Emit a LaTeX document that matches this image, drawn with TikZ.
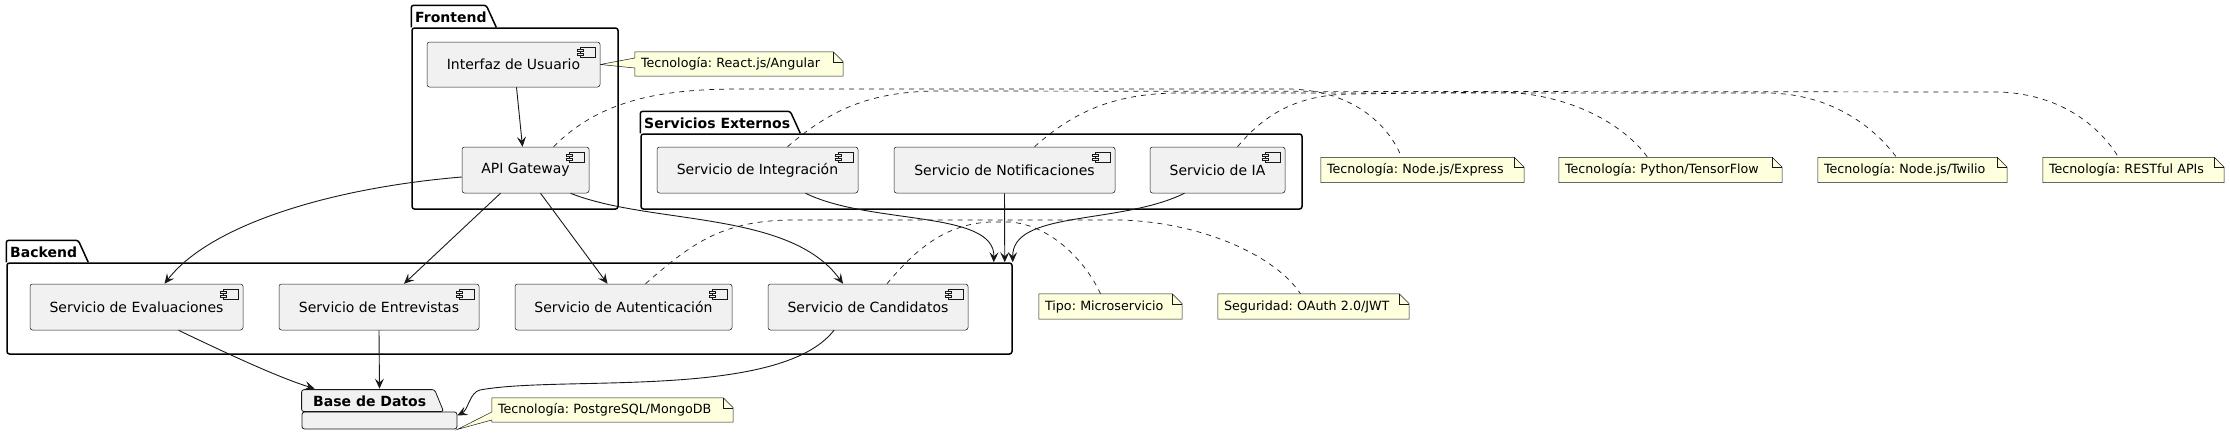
\documentclass[tikz,border=0pt]{standalone}
\usepackage{fontspec}
\setmainfont{DejaVu Sans}
\usetikzlibrary{arrows.meta,calc,backgrounds}
\definecolor{boxfill}{HTML}{F1F1F1}
\definecolor{umlline}{HTML}{181818}
\definecolor{notefill}{HTML}{FEFFDD}

\tikzset{
  comp/.style={draw=umlline, fill=boxfill, rounded corners=2.5pt, line width=0.5pt,
    minimum height=46pt, inner sep=0pt, font=\fontsize{14}{16}\selectfont},
  note/.style={minimum height=25pt, inner xsep=6pt, inner ysep=0pt, align=left,
    font=\fontsize{12.7}{14}\selectfont\frenchspacing},
  notebox/.style={draw=umlline, fill=notefill, line width=0.5pt},
  pkgframe/.style={draw=black, line width=1.5pt, rounded corners=2.5pt, inner sep=0pt},
  pkgline/.style={draw=black, line width=1.5pt, rounded corners=2.5pt},
  pkgtitle/.style={anchor=west, inner sep=0pt, font=\bfseries\fontsize{14}{16}\selectfont},
  dep/.style={draw=umlline, line width=0.9pt, -{Stealth[length=10pt,width=9pt,inset=4pt]}},
  noteline/.style={draw=umlline, line width=0.7pt, dash pattern=on 5pt off 5pt},
}

\begin{document}
\begin{tikzpicture}[x=1pt, y=-1pt]
    \useasboundingbox (0,0) rectangle (2230,437);

    % Packages
    \node[pkgframe, minimum width=206pt, minimum height=181pt] (front) at (515,118.5) {};
    \draw[pkgline] (front.north west) -- ++(0,-22) -- ++(75,0) -- ++(10,22);
    \node[pkgtitle] (frontname) at (415,17) {Frontend};

    \node[pkgframe, minimum width=661pt, minimum height=75pt] (ext) at (971.5,171.5) {};
    \draw[pkgline] (ext.north west) -- ++(0,-22) -- ++(150,0) -- ++(10,22);
    \node[pkgtitle] (extname) at (644,123) {Servicios Externos};

    \node[pkgframe, minimum width=1005pt, minimum height=91pt] (backend) at (509.5,308.5) {};
    \draw[pkgline] (backend.north west) -- ++(0,-22) -- ++(72,0) -- ++(10,22);
    \node[pkgtitle] (backendname) at (10,252) {Backend};

    \node[draw=umlline, fill=boxfill, line width=0.8pt, rounded corners=2.5pt, inner sep=0pt,
          minimum width=155pt, minimum height=17pt] (bd) at (379.5,420.5) {};
    \filldraw[draw=umlline, fill=boxfill, line width=0.8pt, rounded corners=2.5pt]
        (bd.north west) -- ++(0,-22) -- ++(133,0) -- ++(9,22) -- cycle;
    \node[pkgtitle] (bdname) at (313,401) {Base de Datos};

    % Components
    \node[comp, minimum width=173pt, minimum height=45pt] (ui) at (513.5,64.5) {Interfaz de Usuario};
    \node[comp, minimum width=127pt] (api) at (525.5,170) {API Gateway};
    \node[comp, minimum width=201pt] (integ) at (757.5,170) {Servicio de Integración};
    \node[comp, minimum width=221pt] (notif) at (1004.5,170) {Servicio de Notificaciones};
    \node[comp, minimum width=135pt] (ia) at (1217.5,170) {Servicio de IA};
    \node[comp, minimum width=213pt] (eval) at (136.5,307) {Servicio de Evaluaciones};
    \node[comp, minimum width=200pt] (entre) at (379,307) {Servicio de Entrevistas};
    \node[comp, minimum width=217pt] (auth) at (623.5,307) {Servicio de Autenticación};
    \node[comp, minimum width=200pt] (cand) at (868,307) {Servicio de Candidatos};

    \foreach \c in {ui,api,integ,notif,ia,eval,entre,auth,cand} {
        \draw[umlline, line width=0.5pt, fill=boxfill] ($(\c.north east)+(-20,5)$) rectangle ($(\c.north east)+(-5,15)$);
        \draw[umlline, line width=0.5pt, fill=boxfill] ($(\c.north east)+(-23,7)$) rectangle ($(\c.north east)+(-17,9)$);
        \draw[umlline, line width=0.5pt, fill=boxfill] ($(\c.north east)+(-23,11)$) rectangle ($(\c.north east)+(-17,13)$);
    }

    % Notes
    \node[note, text width=196pt, minimum height=24pt] (nReact) at (739,64) {Tecnología: React.js/Angular};
    \node[note, text width=191pt] (nExpress) at (1422.5,170) {Tecnología: Node.js/Express};
    \node[note, text width=211pt] (nTensor) at (1670.5,170) {Tecnología: Python/TensorFlow};
    \node[note, text width=177pt] (nTwilio) at (1912.5,170) {Tecnología: Node.js/Twilio};
    \node[note, text width=169pt] (nRest) at (2133.5,170) {Tecnología: RESTful APIs};
    \node[note, text width=131pt] (nTipo) at (1110.5,306.5) {Tipo: Microservicio};
    \node[note, text width=179pt] (nSeg) at (1313.5,306.5) {Seguridad: OAuth 2.0/JWT};
    \node[note, text width=229pt, minimum height=24pt] (nPg) at (612.5,410) {Tecnología: PostgreSQL/MongoDB};

    \begin{scope}[on background layer]
        \foreach \nn in {nExpress,nTensor,nTwilio,nRest,nTipo,nSeg} {
            \draw[notebox] (\nn.north west) -- ($(\nn.north east)+(-10,0)$) -- ($(\nn.north east)+(0,10)$)
                -- (\nn.south east) -- (\nn.south west) -- cycle;
        }
        \draw[notebox] (nReact.north west) -- ($(nReact.north east)+(-10,0)$) -- ($(nReact.north east)+(0,10)$)
            -- (nReact.south east) -- (nReact.south west) -- ($(nReact.west)+(0,4)$) -- (ui.east)
            -- ($(nReact.west)+(0,-6)$) -- cycle;
        \draw[notebox] (nPg.north west) -- ($(nPg.north east)+(-10,0)$) -- ($(nPg.north east)+(0,10)$)
            -- (nPg.south east) -- (nPg.south west) -- ($(nPg.west)+(0,10)$) -- (bd.south east)
            -- ($(nPg.west)+(0,2)$) -- cycle;
    \end{scope}
    \foreach \nn in {nReact,nExpress,nTensor,nTwilio,nRest,nTipo,nSeg,nPg} {
        \draw[umlline, line width=0.5pt] ($(\nn.north east)+(-10,0)$) |- ($(\nn.north east)+(0,10)$);
    }

    % Note links
    \draw[noteline] ($(api.north)+(28,0)$) .. controls (600,100) and (660,89) .. (740,89)
        -- (1290,89) .. controls (1360,91) and (1392,132) .. ($(nExpress.north)+(-21,0)$);
    \draw[noteline] ($(integ.north)+(30,0)$) .. controls (830,110) and (870,91) .. (940,91)
        -- (2000,92) .. controls (2070,95) and (2105,135) .. ($(nRest.north)+(-15,0)$);
    \draw[noteline] ($(notif.north)+(30,0)$) .. controls (1070,115) and (1110,93) .. (1180,93)
        -- (1770,93) .. controls (1840,95) and (1880,135) .. ($(nTwilio.north)+(-16,0)$);
    \draw[noteline] ($(ia.north)+(20,0)$) .. controls (1260,120) and (1290,95) .. (1350,94)
        -- (1500,92) .. controls (1580,94) and (1630,132) .. ($(nTensor.north)+(-23,0)$);
    \draw[noteline] ($(auth.north)+(22,0)$) .. controls (690,245) and (720,221) .. (790,220)
        -- (1120,220) .. controls (1200,222) and (1275,255) .. ($(nSeg.north)+(-13,0)$);
    \draw[noteline] ($(cand.north)+(19,0)$) .. controls (915,250) and (945,224) .. (990,222)
        -- (1010,222) .. controls (1050,225) and (1085,260) .. ($(nTipo.north)+(-10,0)$);

    % Dependencies
    \draw[dep] ($(ui.south)+(3,0)$) -- ($(api.north)+(-3,0)$);
    \draw[dep] ($(api.west)+(0,7)$) .. controls (330,188) and (210,225) .. ($(eval.north)+(28,0)$);
    \draw[dep] ($(api.south)+(-25,0)$) -- ($(entre.north)+(25,0)$);
    \draw[dep] ($(api.south)+(15,0)$) -- ($(auth.north)+(-16,0)$);
    \draw[dep] ($(api.south)+(45,0)$) .. controls (650,225) and (790,210) .. ($(cand.north)+(-25,0)$);
    \draw[dep] ($(integ.south)+(48,0)$) .. controls (870,225) and (995,210) .. ($(backend.north east)+(-19,0)$);
    \draw[dep] (notif.south) -- ($(backend.north east)+(-8,0)$);
    \draw[dep] ($(ia.south)+(-33,0)$) .. controls (1120,225) and (1012,210) .. (backend.north east);
    \draw[dep] ($(eval.south)+(42,0)$) .. controls (230,355) and (280,378) .. ($(bd.north west)+(13,-23)$);
    \draw[dep] (entre.south) -- ($(bd.north)+(0,-23)$);
    \draw[dep] ($(cand.south)+(-34,0)$) .. controls (780,400) and (560,375) .. (480,390)
        .. controls (470,392) and (468,410) .. ($(bd.east)+(0,-5)$);
\end{tikzpicture}
\end{document}
